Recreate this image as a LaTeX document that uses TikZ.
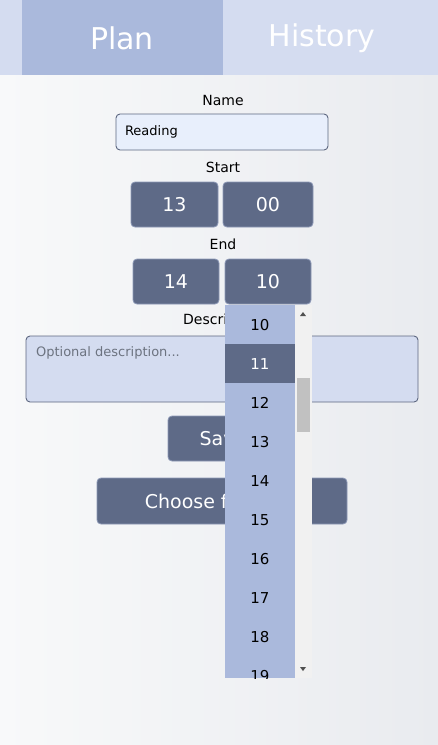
\documentclass[tikz,border=0pt]{standalone}
\usepackage{fontspec}
\setmainfont{DejaVu Sans}
\usepackage{xcolor}
\usepackage{tikz}
\usetikzlibrary{calc}
\definecolor{barbg}{HTML}{D4DCF0}
\definecolor{tabon}{HTML}{AAB9DC}
\definecolor{pagel}{HTML}{F8F9FA}
\definecolor{pager}{HTML}{E9EBEF}
\definecolor{fieldbg}{HTML}{E8EFFC}
\definecolor{fieldline}{HTML}{5D6780}
\definecolor{btn}{HTML}{5E6A87}
\definecolor{btnline}{HTML}{8C98B6}
\definecolor{hint}{HTML}{6C7380}
\definecolor{scroll}{HTML}{F1F1F1}
\definecolor{thumb}{HTML}{C1C1C1}
\definecolor{arrowc}{HTML}{505050}
\tikzset{
  tabtext/.style={font=\fontsize{30}{30}\selectfont, text=white},
  label/.style={font=\fontsize{14}{14}\selectfont, text=black},
  field/.style={draw=fieldline, line width=0.9pt, rounded corners=4pt, inner sep=0pt},
  timebox/.style={
    fill=btn,
    draw=btnline,
    line width=0.8pt,
    rounded corners=4pt,
    text=white,
    font=\fontsize{19}{19}\selectfont,
    minimum height=45pt
  },
  hinttext/.style={font=\fontsize{13}{13}\selectfont, text=hint},
  item/.style={font=\fontsize{15}{15}\selectfont, text=black}
}

\begin{document}
\begin{tikzpicture}[x=1pt, y=-1pt]
  \useasboundingbox (0,0) rectangle (438,745);

  % page and tab bar
  \shade[left color=pagel, right color=pager] (0,75) rectangle (438,745);
  \fill[barbg] (0,0) rectangle (438,75);
  \fill[tabon] (22,0) rectangle (223,75);
  \node[tabtext] (plan) at (122,38) {Plan};
  \node[tabtext] (history) at (322,38) {History};

  % name
  \node[label] (namelbl) at (223,100) {Name};
  \node[field, fill=fieldbg, minimum width=212pt, minimum height=36pt,
        text width=194pt, align=left, font=\fontsize{13}{13}\selectfont]
        (name) at (222,132) {Reading};

  % start and end times
  \node[label] (startlbl) at (223,167) {Start};
  \node[timebox, minimum width=87pt] (starth) at (174.5,204.5) {13};
  \node[timebox, minimum width=90pt] (startm) at (268,204.5) {00};
  \node[label] (endlbl) at (223,244) {End};
  \node[timebox, minimum width=86pt] (endh) at (176,281.5) {14};
  \node[timebox, minimum width=86pt] (endm) at (268,281.5) {10};

  % description (label partly hidden under the open list)
  \begin{scope}
    \clip (0,305) rectangle (225,335);
    \node[label] (desclbl) at (223,321) {Description};
  \end{scope}
  \node[field, fill=barbg, minimum width=392pt, minimum height=66pt] (desc) at (222,369) {};
  \node[hinttext, anchor=north west] (deschint) at ($(desc.north west)+(7,8)$) {Optional description...};

  % buttons
  \node[timebox, minimum width=110pt] (save) at (223,438.5) {Save};
  \node[timebox, minimum width=250pt, minimum height=46pt] (choose) at (222,501) {Choose from list};

  % open dropdown of minutes
  \fill[tabon] (225,305) rectangle (295,678);
  \fill[scroll] (295,305) rectangle (312,678);
  \fill[btn] (225,344) rectangle (295,383);
  \fill[thumb] (297,378) rectangle (310,432);
  \fill[arrowc] (300,316) -- (306,316) -- (303,312) -- cycle;
  \fill[arrowc] (300,667) -- (306,667) -- (303,671) -- cycle;
  \begin{scope}
    \clip (225,305) rectangle (295,678);
    \foreach \m/\c in {10/black,11/white,12/black,13/black,14/black,
                       15/black,16/black,17/black,18/black,19/black}{
      \node[item, text=\c] (min\m) at (260,{325+39*(\m-10)}) {\m};
    }
  \end{scope}
\end{tikzpicture}
\end{document}
